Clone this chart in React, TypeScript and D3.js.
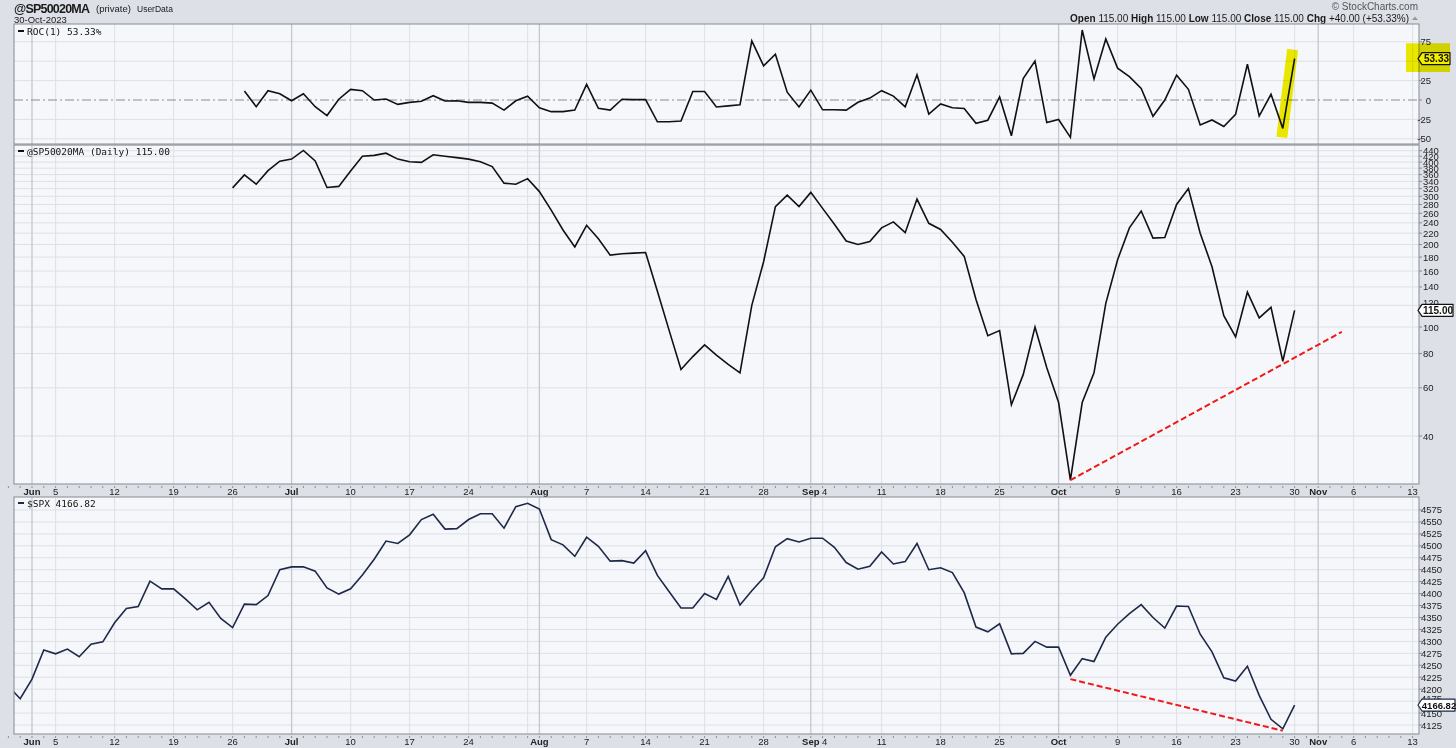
import React from 'react';
import * as d3 from 'd3';

// weekday slots on the x axis (the user data keeps holiday slots)
const dayKey = d3.utcFormat('%m-%d');
const days = d3.utcDay
  .range(new Date(Date.UTC(2023, 4, 30)), new Date(Date.UTC(2023, 10, 14)))
  .filter(d => d.getUTCDay() !== 0 && d.getUTCDay() !== 6)
  .map(dayKey);

const monthTicks: [string, string][] = [
  ['06-01', 'Jun'], ['07-03', 'Jul'], ['08-01', 'Aug'], ['09-01', 'Sep'], ['10-02', 'Oct'], ['11-01', 'Nov'],
];
const weekTicks = [
  '06-05', '06-12', '06-19', '06-26', '07-10', '07-17', '07-24', '08-07', '08-14', '08-21', '08-28',
  '09-04', '09-11', '09-18', '09-25', '10-09', '10-16', '10-23', '10-30', '11-06', '11-13',
];
const extraGrid = ['07-31'];

// ROC(1) of the user data, from 06-27
const rocStart = '06-27';
const rocValues = [
  11.6, -8.6, 12, 8.1,
  -1, 8.1, -8.6, -20, 1, 13.7, 12, 0, 1.3, -5.6, -3, -1.7, 5.6, -1.3, -0.9, -3, -3, -4, -13, -1, 4.8,
  -10, -15, -15, -13, 20, -10.6, -13, 1, 0.5, 0.5, -28, -28, -27, 11, 11, -9, -7.6, -6, 76, 44, 59, 10, -9,
  12.7, -12.6, -12.5, -13, -3, 2.5, 12, 5, -8.7, 32.6, -18, -5, -10, -11, -30, -26, 4, -46, 27.5, 50, -29,
  -25, -48, 90, 27, 78.5, 41, 30, 15, -21, 0, 32, 13.7, -32, -25.7, -34, -18.4, 46, -20.6, 7.3, -36.5, 53.33,
];
const rocTicks = [75, 50, 25, 0, -25, -50];

// @SP50020MA daily, from 06-26
const breadthStart = '06-26';
const breadthValues = [
  322, 359, 332, 372, 403,
  410, 441, 404, 323, 326, 371, 420, 423, 431, 410, 401, 399, 425, 420, 415, 410, 401, 385, 335, 332, 348,
  312, 267, 226, 196, 235, 210, 183, 185, 186, 187, 135, 97, 70, 78, 86, 79, 73, 68, 120, 173, 275, 303, 275,
  310, 271, 237, 206, 200, 205, 230, 242, 221, 293, 239, 227, 204, 181, 126, 93, 97, 52, 67, 100, 71,
  53, 27.6, 53, 68, 122, 176, 230, 265, 211, 212, 280, 320, 220, 166, 110, 92, 134, 108, 118, 75, 115,
];
const breadthTicks = [40, 60, 80, 100, 120, 140, 160, 180, 200, 220, 240, 260, 280, 300, 320, 340, 360, 380, 400, 420, 440];
const breadthTrend: [string, number][] = [['10-03', 27.6], ['11-03', 96]];

// $SPX close, from 05-30
const spxStart = '05-30';
const spxValues = [
  4206, 4180,
  4221, 4282, 4274, 4284, 4268, 4294, 4299, 4339, 4369, 4373, 4426, 4410, 4410, 4389, 4366, 4382, 4348, 4329,
  4378, 4377, 4396, 4450,
  4456, 4456, 4447, 4412, 4399, 4410, 4439, 4472, 4510, 4505, 4523, 4555, 4566, 4535, 4536, 4555, 4567, 4567,
  4537, 4582, 4589,
  4577, 4513, 4502, 4478, 4518, 4499, 4468, 4469, 4464, 4490, 4438, 4404, 4370, 4370, 4400, 4388, 4436, 4376,
  4406, 4433, 4498, 4515, 4508,
  4516, 4516, 4497, 4465, 4451, 4457, 4487, 4462, 4467, 4505, 4450, 4454, 4444, 4402, 4330, 4320, 4337, 4274,
  4275, 4300, 4288,
  4288, 4229, 4264, 4258, 4309, 4336, 4358, 4377, 4350, 4328, 4374, 4373, 4315, 4278, 4224, 4217, 4248, 4187,
  4137, 4117, 4166.82,
];
const spxTicks = d3.range(4125, 4576, 25);
const spxTrend: [string, number][] = [['10-03', 4221], ['10-27', 4113]];

type Pt = { d: string; v: number };
const toPts = (start: string, vals: number[]): Pt[] => {
  const i0 = days.indexOf(start);
  return vals.map((v, i) => ({ d: days[i0 + i], v }));
};

const SANS = '"Liberation Sans", Arial, sans-serif';
const MONO = '"DejaVu Sans Mono", monospace';
const BG = '#dde0e7';
const PANEL = '#f6f7fb';
const GRID = '#dde0e6';
const GRID_M = '#c3c7cf';
const BORDER = '#868b94';

export default function App() {
  const L = 14, R = 1419;
  const p1 = { top: 24, bottom: 144 };
  const p2 = { top: 145, bottom: 484 };
  const p3 = { top: 497, bottom: 734 };

  const x = d3.scalePoint<string>().domain(days).range([32 - 2 * 11.8, 32 + 117 * 11.8]);
  const yRoc = d3.scaleLinear().domain([-56.6, 97.8]).range([p1.bottom, p1.top]);
  const yBr = d3.scaleLog().domain([26.73, 461.6]).range([p2.bottom, p2.top]);
  const ySpx = d3.scaleLinear().domain([4106.2, 4602.2]).range([p3.bottom, p3.top]);

  const roc = toPts(rocStart, rocValues);
  const breadth = toPts(breadthStart, breadthValues);
  const spx = toPts(spxStart, spxValues);

  const line = (y: (v: number) => number) =>
    d3.line<Pt>().x(p => x(p.d)!).y(p => y(p.v));

  const vGrid = (top: number, bottom: number) => (
    <g>
      {[...weekTicks, ...extraGrid].map(k => (
        <line key={k} x1={x(k)} x2={x(k)} y1={top} y2={bottom} stroke={GRID} strokeWidth={1} />
      ))}
      {monthTicks.map(([k]) => (
        <line key={k} x1={x(k)} x2={x(k)} y1={top} y2={bottom} stroke={GRID_M} strokeWidth={1.3} />
      ))}
    </g>
  );

  const xLabels = (yy: number) => (
    <g fontFamily={SANS} fontSize={9.5} fill="#222" textAnchor="middle">
      {days.map(k => (
        <line key={k} x1={x(k)} x2={x(k)} y1={yy - 9} y2={yy - 7} stroke="#8a8f98" strokeWidth={1} />
      ))}
      {monthTicks.map(([k, t]) => (
        <text key={k} x={x(k)} y={yy} fontWeight="bold">{t}</text>
      ))}
      {weekTicks.map(k => (
        <text key={k} x={k === '09-04' ? x(k)! + 2 : x(k)} y={yy}>{+k.slice(3)}</text>
      ))}
    </g>
  );

  // price tag on the right axis
  const tag = (yy: number, label: string, color: string, w: number, fs: number) => (
    <g>
      <path
        d={`M${R - 1},${yy} L${R + 3},${yy - 6} L${R + 3 + w},${yy - 6} L${R + 3 + w},${yy + 6} L${R + 3},${yy + 6} Z`}
        fill="#fff" stroke={color} strokeWidth={1.2} strokeLinejoin="round"
      />
      <text x={R + 3.5 + w / 2} y={yy + 3.6} textAnchor="middle" fontFamily={SANS} fontSize={fs}
        fontWeight="bold" fill="#111">{label}</text>
    </g>
  );

  const lastRoc = rocValues[rocValues.length - 1];
  const lastBr = breadthValues[breadthValues.length - 1];
  const lastSpx = spxValues[spxValues.length - 1];

  return (
    <svg width={1456} height={748} style={{ position: 'absolute', left: 0, top: 0, background: BG }}>
      <defs>
        <clipPath id="c1"><rect x={L} y={p1.top} width={R - L} height={p1.bottom - p1.top} /></clipPath>
        <clipPath id="c2"><rect x={L} y={p2.top} width={R - L} height={p2.bottom - p2.top} /></clipPath>
        <clipPath id="c3"><rect x={L} y={p3.top} width={R - L} height={p3.bottom - p3.top} /></clipPath>
      </defs>
      <rect x={0} y={0} width={1456} height={748} fill={BG} />

      {/* header */}
      <g fontFamily={SANS} fill="#1a1a1a">
        <text x={14} y={12.5} fontSize={12.5} fontWeight="bold" textLength={76}>@SP50020MA</text>
        <text x={96} y={11.5} fontSize={9.5}>(private)</text>
        <text x={137} y={11.5} fontSize={8.5}>UserData</text>
        <text x={14} y={22.5} fontSize={9.5}>30-Oct-2023</text>
        <text x={1418} y={10} fontSize={10} textAnchor="end" fill="#555">© StockCharts.com</text>
        <text x={1409} y={22} fontSize={10} textAnchor="end">
          <tspan fontWeight="bold">Open</tspan> 115.00 <tspan fontWeight="bold">High</tspan> 115.00{' '}
          <tspan fontWeight="bold">Low</tspan> 115.00 <tspan fontWeight="bold">Close</tspan> 115.00{' '}
          <tspan fontWeight="bold">Chg</tspan> +40.00 (+53.33%)
        </text>
        <path d="M1412,20 L1415,16.5 L1418,20 Z" fill="#999" />
      </g>

      {/* ROC panel */}
      <rect x={L} y={p1.top} width={R - L} height={p1.bottom - p1.top} fill={PANEL} />
      {rocTicks.filter(t => t !== 0).map(t => (
        <line key={t} x1={L} x2={R} y1={yRoc(t)} y2={yRoc(t)} stroke={GRID} />
      ))}
      {vGrid(p1.top, p1.bottom)}
      <line x1={L} x2={R} y1={yRoc(0)} y2={yRoc(0)} stroke="#8c8c8c" strokeWidth={1} strokeDasharray="9,3,2,3" />
      <path
        d={`M${x('10-27')! - 1},${yRoc(-48)} L${x('10-30')! - 2},${yRoc(65)}`}
        stroke="#f2ee00" strokeWidth={11} fill="none" style={{ mixBlendMode: 'multiply' }}
      />
      <path d={line(yRoc)(roc)!} fill="none" stroke="#111" strokeWidth={1.6} clipPath="url(#c1)" />
      <rect x={L} y={p1.top} width={R - L} height={p1.bottom - p1.top} fill="none" stroke={BORDER} />
      <line x1={18} x2={24} y1={31} y2={31} stroke="#111" strokeWidth={2} />
      <text x={27} y={34.5} fontFamily={MONO} fontSize={9.5} fill="#111">ROC(1) {lastRoc.toFixed(2)}%</text>
      <g fontFamily={SANS} fontSize={9.5} fill="#222" textAnchor="end">
        {rocTicks.filter(t => t !== 50).map(t => (
          <g key={t}>
            <line x1={R} x2={R + 3} y1={yRoc(t)} y2={yRoc(t)} stroke={BORDER} />
            <text x={1431} y={yRoc(t) + 3.5}>{t}</text>
          </g>
        ))}
      </g>
      {tag(yRoc(lastRoc), lastRoc.toFixed(2), '#111', 28, 10)}
      <rect x={1406} y={yRoc(73)} width={44} height={yRoc(36) - yRoc(73)} fill="#f2ee00"
        style={{ mixBlendMode: 'multiply' }} />

      {/* breadth panel */}
      <rect x={L} y={p2.top} width={R - L} height={p2.bottom - p2.top} fill={PANEL} />
      {[...breadthTicks, 460].map(t => (
        <line key={t} x1={L} x2={R} y1={yBr(t)} y2={yBr(t)} stroke={GRID} />
      ))}
      {vGrid(p2.top, p2.bottom)}
      <path d={line(yBr)(breadth)!} fill="none" stroke="#111" strokeWidth={1.6} clipPath="url(#c2)" />
      <line
        x1={x(breadthTrend[0][0])} y1={yBr(breadthTrend[0][1])}
        x2={x(breadthTrend[1][0])} y2={yBr(breadthTrend[1][1])}
        stroke="#f01818" strokeWidth={2} strokeDasharray="6,3"
      />
      <rect x={L} y={p2.top} width={R - L} height={p2.bottom - p2.top} fill="none" stroke={BORDER} />
      <line x1={18} x2={24} y1={151} y2={151} stroke="#111" strokeWidth={2} />
      <text x={27} y={154.5} fontFamily={MONO} fontSize={9.5} fill="#111">@SP50020MA (Daily) {lastBr.toFixed(2)}</text>
      <g fontFamily={SANS} fontSize={9.5} fill="#222">
        {breadthTicks.map(t => (
          <g key={t}>
            <line x1={R} x2={R + 3} y1={yBr(t)} y2={yBr(t)} stroke={BORDER} />
            <text x={1423} y={t === 120 ? yBr(t) + 1 : yBr(t) + 3.5}>{t}</text>
          </g>
        ))}
      </g>
      {tag(yBr(lastBr), lastBr.toFixed(2), '#111', 31, 10)}

      {xLabels(495)}

      {/* SPX panel */}
      <rect x={L} y={p3.top} width={R - L} height={p3.bottom - p3.top} fill={PANEL} />
      {spxTicks.map(t => (
        <line key={t} x1={L} x2={R} y1={ySpx(t)} y2={ySpx(t)} stroke={GRID} />
      ))}
      {vGrid(p3.top, p3.bottom)}
      <path d={line(ySpx)(spx)!} fill="none" stroke="#1d2948" strokeWidth={1.6} clipPath="url(#c3)" />
      <line
        x1={x(spxTrend[0][0])} y1={ySpx(spxTrend[0][1])}
        x2={x(spxTrend[1][0])} y2={ySpx(spxTrend[1][1])}
        stroke="#f01818" strokeWidth={2} strokeDasharray="6,3"
      />
      <rect x={L} y={p3.top} width={R - L} height={p3.bottom - p3.top} fill="none" stroke={BORDER} />
      <line x1={18} x2={24} y1={503} y2={503} stroke="#1d2948" strokeWidth={2} />
      <text x={27} y={506.5} fontFamily={MONO} fontSize={9.5} fill="#111">$SPX {lastSpx.toFixed(2)}</text>
      <g fontFamily={SANS} fontSize={9.5} fill="#222">
        {spxTicks.map(t => (
          <g key={t}>
            <line x1={R} x2={R + 3} y1={ySpx(t)} y2={ySpx(t)} stroke={BORDER} />
            <text x={1421} y={t === 4175 ? ySpx(t) + 0.5 : ySpx(t) + 3.5}>{t}</text>
          </g>
        ))}
      </g>
      {tag(ySpx(lastSpx), lastSpx.toFixed(2), '#1d2948', 33, 9.5)}

      {xLabels(745)}
    </svg>
  );
}
